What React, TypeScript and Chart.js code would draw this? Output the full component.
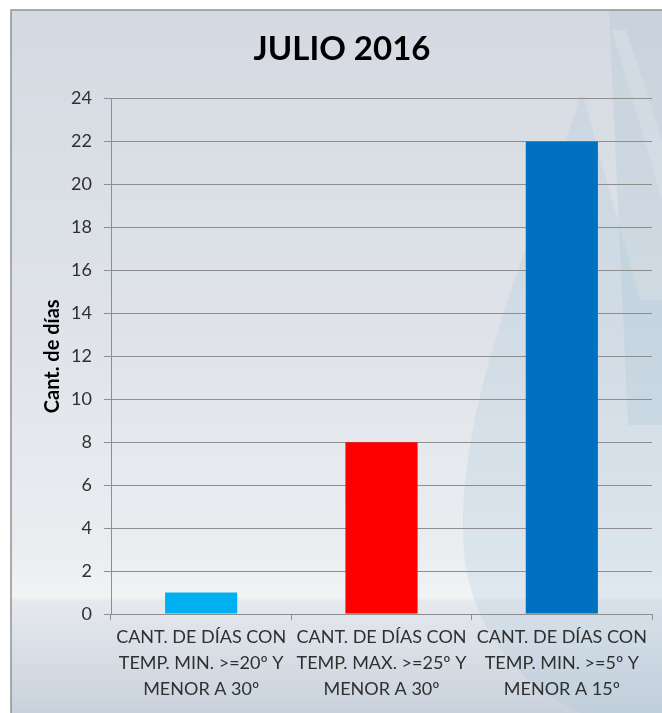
import React, { useEffect, useRef } from 'react';
import { Chart, registerables } from 'chart.js';

Chart.register(...registerables);

const titleText = 'JULIO 2016';
const yAxisTitle = 'Cant. de días';
const categories = [
  ['CANT. DE DÍAS CON', 'TEMP. MIN. >=20º Y', 'MENOR A 30º'],
  ['CANT. DE DÍAS CON', 'TEMP. MAX. >=25º Y', 'MENOR A 30º'],
  ['CANT. DE DÍAS CON', 'TEMP. MIN. >=5º Y', 'MENOR A 15º'],
];
const values = [1, 8, 22];
const barColors = ['#00B0F0', '#FF0000', '#0070C0'];
const yMin = 0;
const yMax = 24;
const yStep = 2;

const FONT = 'Lato, "Open Sans", sans-serif';

const backgroundPlugin = {
  id: 'bgPanel',
  beforeDraw(chart: any) {
    const ctx = chart.ctx as CanvasRenderingContext2D;
    const W = chart.width;
    const H = chart.height;
    const x0 = 11;
    const y0 = 10;
    ctx.save();
    ctx.fillStyle = '#ffffff';
    ctx.fillRect(0, 0, W, H);

    const g = ctx.createLinearGradient(0, y0, 0, H);
    g.addColorStop(0, '#D5DAE2');
    g.addColorStop(0.45, '#DFE3E9');
    g.addColorStop(0.78, '#EBEEF1');
    g.addColorStop(0.835, '#F1F3F5');
    g.addColorStop(0.84, '#E6E9EE');
    g.addColorStop(1, '#C9D2DC');
    ctx.fillStyle = g;
    ctx.fillRect(x0, y0, W - x0, H - y0);

    // right tinted band
    ctx.fillStyle = 'rgba(150,185,205,0.2)';
    ctx.beginPath();
    ctx.moveTo(609, y0);
    ctx.lineTo(W, y0);
    ctx.lineTo(W, 425);
    ctx.lineTo(628, 425);
    ctx.closePath();
    ctx.fill();

    // lighter diagonal stripe
    ctx.fillStyle = 'rgba(235,240,244,0.25)';
    ctx.beginPath();
    ctx.moveTo(612, 30);
    ctx.lineTo(626, 30);
    ctx.lineTo(W, 140);
    ctx.lineTo(W, 200);
    ctx.closePath();
    ctx.fill();

    // drop watermark
    ctx.fillStyle = 'rgba(165,198,218,0.22)';
    ctx.beginPath();
    ctx.moveTo(582, 92);
    ctx.bezierCurveTo(545, 210, 462, 380, 463, 530);
    ctx.bezierCurveTo(463, 640, 540, 715, 640, 730);
    ctx.lineTo(W + 20, 730);
    ctx.lineTo(W + 20, 300);
    ctx.lineTo(640, 300);
    ctx.closePath();
    ctx.fill();

    // frame border
    ctx.strokeStyle = '#8F9296';
    ctx.lineWidth = 1.5;
    ctx.beginPath();
    ctx.moveTo(x0, H);
    ctx.lineTo(x0, y0);
    ctx.lineTo(W, y0);
    ctx.stroke();
    ctx.restore();
  },
};

export default function App() {
  const canvasRef = useRef<HTMLCanvasElement | null>(null);

  useEffect(() => {
    const canvas = canvasRef.current;
    if (!canvas) return;
    const chart = new Chart(canvas, {
      type: 'bar',
      data: {
        labels: categories,
        datasets: [
          {
            data: values,
            backgroundColor: barColors,
            borderWidth: 0,
            barPercentage: 0.4,
            categoryPercentage: 1,
          },
        ],
      },
      options: {
        responsive: false,
        animation: false,
        devicePixelRatio: 1,
        layout: { padding: { left: 32, right: 10, top: 10, bottom: 0 } },
        plugins: {
          legend: { display: false },
          tooltip: { enabled: false },
          title: {
            display: true,
            text: titleText,
            color: '#000000',
            font: { family: FONT, size: 33, weight: 'bold' },
            padding: { top: 20, bottom: 29 },
          },
        },
        scales: {
          x: {
            grid: {
              drawOnChartArea: false,
              offset: true,
              tickLength: 6,
              color: '#8E8E8E',
            },
            border: { color: '#8E8E8E' },
            ticks: {
              color: '#303030',
              font: { family: FONT, size: 18, lineHeight: 1.45 },
              padding: 4,
              maxRotation: 0,
              autoSkip: false,
            },
            afterFit: (s: any) => {
              s.height = 99;
            },
          },
          y: {
            min: yMin,
            max: yMax,
            ticks: {
              stepSize: yStep,
              color: '#303030',
              font: { family: FONT, size: 18 },
              padding: 12,
            },
            grid: { color: '#8E8E8E', tickLength: 7 },
            border: { color: '#8E8E8E' },
            title: {
              display: true,
              text: yAxisTitle,
              color: '#000000',
              font: { family: FONT, size: 20, weight: 'bold' },
              padding: { top: 9, bottom: 0 },
            },
            afterFit: (s: any) => {
              s.width = 79;
            },
          },
        },
      },
      plugins: [backgroundPlugin],
    });
    return () => chart.destroy();
  }, []);

  return (
    <div style={{ position: 'absolute', left: 0, top: 0, width: 662, height: 713 }}>
      <canvas ref={canvasRef} width={662} height={713} style={{ display: 'block' }} />
    </div>
  );
}
